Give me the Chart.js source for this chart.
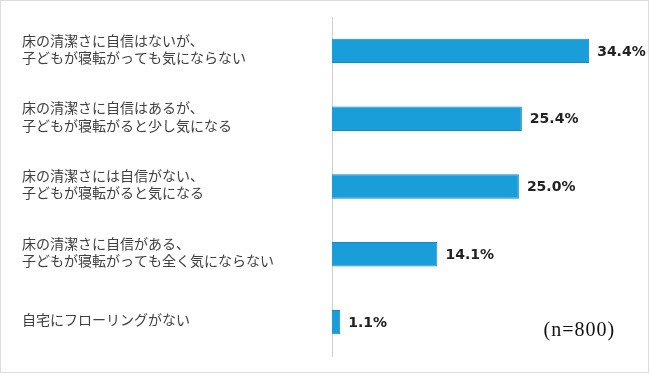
<!DOCTYPE html>
<html>
<head>
<meta charset="utf-8">
<script src="https://cdn.jsdelivr.net/npm/chart.js@4"></script>
<style>
  body { margin: 0; background: #fff; }
  #wrap { position: relative; width: 650px; height: 387px; }
  #frame { position: absolute; left: 0; top: 0; width: 647px; height: 371px; border: 1px solid #dcdcdc; pointer-events: none; }
</style>
</head>
<body>
<div id="wrap">
  <canvas id="chart" width="650" height="387"></canvas>
  <div id="frame"></div>
</div>
<script>
const categories = [
  ['床の清潔さに自信はないが、', '子どもが寝転がっても気にならない'],
  ['床の清潔さに自信はあるが、', '子どもが寝転がると少し気になる'],
  ['床の清潔さには自信がない、', '子どもが寝転がると気になる'],
  ['床の清潔さに自信がある、', '子どもが寝転がっても全く気にならない'],
  '自宅にフローリングがない'
];
const values = [34.4, 25.4, 25.0, 14.1, 1.1];
const sampleNote = '(n=800)';

const valueLabels = {
  id: 'valueLabels',
  afterDatasetsDraw(chart) {
    const ctx = chart.ctx;
    const meta = chart.getDatasetMeta(0);
    ctx.save();
    ctx.fillStyle = '#222';
    ctx.font = 'bold 14px "DejaVu Sans"';
    ctx.textAlign = 'left';
    ctx.textBaseline = 'middle';
    meta.data.forEach((bar, i) => {
      ctx.fillText(values[i].toFixed(1) + '%', bar.x + 8, bar.y + 1);
    });
    // sample size note
    const x = chart.scales.x;
    const y = chart.scales.y;
    ctx.font = '20px "Liberation Serif"';
    ctx.letterSpacing = '1px';
    ctx.fillStyle = '#111';
    ctx.fillText(sampleNote, x.getPixelForValue(28.3), y.getPixelForValue(4) + 9);
    ctx.restore();
  }
};

new Chart(document.getElementById('chart'), {
  type: 'bar',
  data: {
    labels: categories,
    datasets: [{
      data: values,
      backgroundColor: '#1a9ed9',
      borderColor: '#1788bf',
      borderWidth: 1,
      borderSkipped: 'left',
      barPercentage: 0.36,
      categoryPercentage: 1
    }]
  },
  options: {
    indexAxis: 'y',
    responsive: false,
    animation: false,
    layout: { padding: { left: 22, top: 17, bottom: 31, right: 19 } },
    plugins: { legend: { display: false }, tooltip: { enabled: false } },
    scales: {
      x: { display: false, min: 0, max: 40 },
      y: {
        afterFit: (s) => { s.width = 310; },
        grid: { display: false, drawTicks: false },
        border: { color: '#cfcfcf', width: 1 },
        ticks: {
          crossAlign: 'far',
          labelOffset: -2,
          color: '#404040',
          font: { family: '"Noto Sans CJK JP"', size: 14, lineHeight: 1.22 }
        }
      }
    }
  },
  plugins: [valueLabels]
});
</script>
</body>
</html>
